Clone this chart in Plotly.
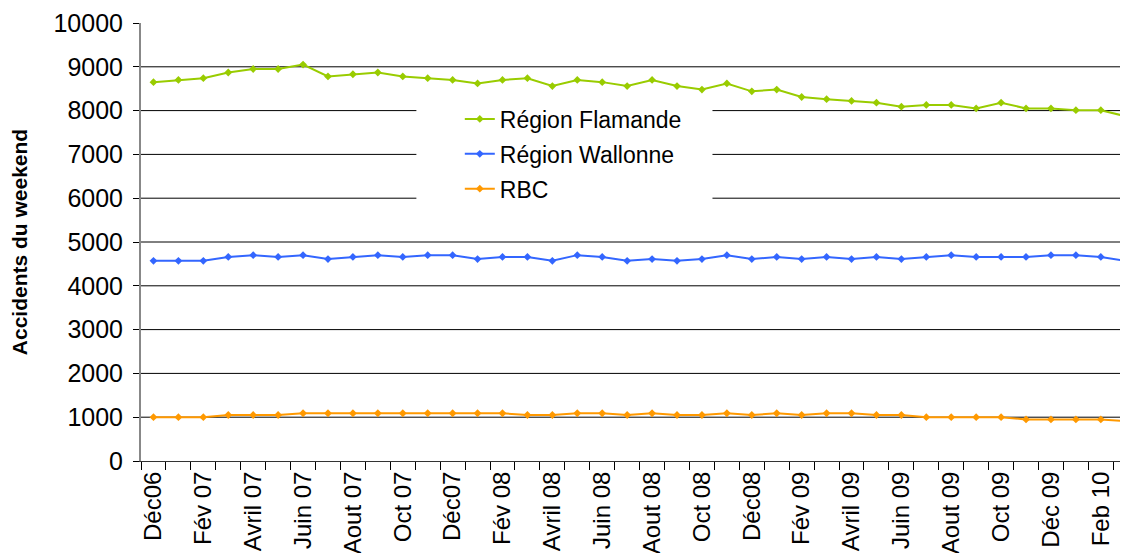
import plotly.graph_objects as go

months = ["Déc06", "Jan 07", "Fév 07", "Mars 07", "Avril 07", "Mai 07", "Juin 07", "Juil 07",
          "Aout 07", "Sept 07", "Oct 07", "Nov 07", "Déc07", "Jan 08", "Fév 08", "Mars 08",
          "Avril 08", "Mai 08", "Juin 08", "Juil 08", "Aout 08", "Sept 08", "Oct 08", "Nov 08",
          "Déc08", "Jan 09", "Fév 09", "Mars 09", "Avril 09", "Mai 09", "Juin 09", "Juil 09",
          "Aout 09", "Sept 09", "Oct 09", "Nov 09", "Déc 09", "Jan 10", "Feb 10", "Mar 10"]

flamande = [8650, 8700, 8740, 8870, 8950, 8950, 9050, 8780, 8830, 8870, 8780, 8740, 8700,
            8620, 8700, 8740, 8560, 8700, 8650, 8560, 8700, 8560, 8480, 8620, 8440, 8480,
            8310, 8260, 8220, 8180, 8090, 8130, 8130, 8050, 8180, 8050, 8050, 8010, 8010, 7870]

wallonne = [4570, 4570, 4570, 4660, 4700, 4660, 4700, 4610, 4660, 4700, 4660, 4700, 4700,
            4610, 4660, 4660, 4570, 4700, 4660, 4570, 4610, 4570, 4610, 4700, 4610, 4660,
            4610, 4660, 4610, 4660, 4610, 4660, 4700, 4660, 4660, 4660, 4700, 4700, 4660, 4570]

rbc = [1000, 1000, 1000, 1050, 1050, 1050, 1090, 1090, 1090, 1090, 1090, 1090, 1090,
       1090, 1090, 1050, 1050, 1090, 1090, 1050, 1090, 1050, 1050, 1090, 1050, 1090,
       1050, 1090, 1090, 1050, 1050, 1000, 1000, 1000, 1000, 950, 950, 950, 950, 910]

y_ticks = [0, 1000, 2000, 3000, 4000, 5000, 6000, 7000, 8000, 9000, 10000]

series = [
    ("Région Flamande", flamande, "#99cc00"),
    ("Région Wallonne", wallonne, "#3366ff"),
    ("RBC", rbc, "#ff9900"),
]

FONT = "Liberation Sans, Arial, sans-serif"
x = list(range(len(months)))

fig = go.Figure()
for name, vals, color in series:
    fig.add_trace(go.Scatter(
        name=name, x=x, y=vals, mode="lines+markers",
        line=dict(color=color, width=2),
        marker=dict(color=color, size=6, symbol="diamond"),
        legendgroup=name,
    ))

# horizontal gridlines (no line at the top value)
shapes = []
for v in y_ticks[1:-1]:
    shapes.append(dict(type="line", xref="paper", yref="y", x0=0, x1=1, y0=v, y1=v,
                       line=dict(color="black", width=1), layer="below"))
# white box behind the legend hides the gridlines there
shapes.append(dict(type="rect", xref="paper", yref="paper", x0=0.279, x1=0.579, y0=0.575, y1=0.835,
                   fillcolor="white", line=dict(width=0), layer="below"))

# the page body has an 8px margin, so the figure is 8px smaller than the window
fig.update_layout(
    width=1120, height=545,
    margin=dict(l=133, r=0, t=15, b=92),
    paper_bgcolor="white", plot_bgcolor="white",
    font=dict(family=FONT, color="black"),
    shapes=shapes,
    legend=dict(
        x=0.323, y=0.83, xanchor="left", yanchor="top",
        bgcolor="rgba(0,0,0,0)", font=dict(size=23, family=FONT),
        tracegroupgap=2, traceorder="grouped",
    ),
)

fig.update_xaxes(
    range=[-0.5, 39.09], automargin=False,
    tickvals=x[::2], ticktext=months[::2], tickangle=-90,
    tickfont=dict(size=24, family=FONT),
    ticks="", showgrid=False, zeroline=False,
    showline=True, linecolor="#333333", linewidth=1,
    minor=dict(tick0=-0.5, dtick=1, ticks="outside", ticklen=8, tickcolor="black", showgrid=False),
)

fig.update_yaxes(
    range=[0, 10000], automargin=False,
    tickvals=y_ticks, ticktext=[str(v) for v in y_ticks],
    tickfont=dict(size=25, family=FONT), ticklabelstandoff=5,
    ticks="outside", ticklen=6, tickcolor="black",
    showgrid=False, zeroline=False,
    showline=True, linecolor="#888888", linewidth=2,
    title=dict(text="<b>Accidents du weekend</b>", font=dict(size=21, family=FONT), standoff=24),
)

fig.write_html("out.html")
